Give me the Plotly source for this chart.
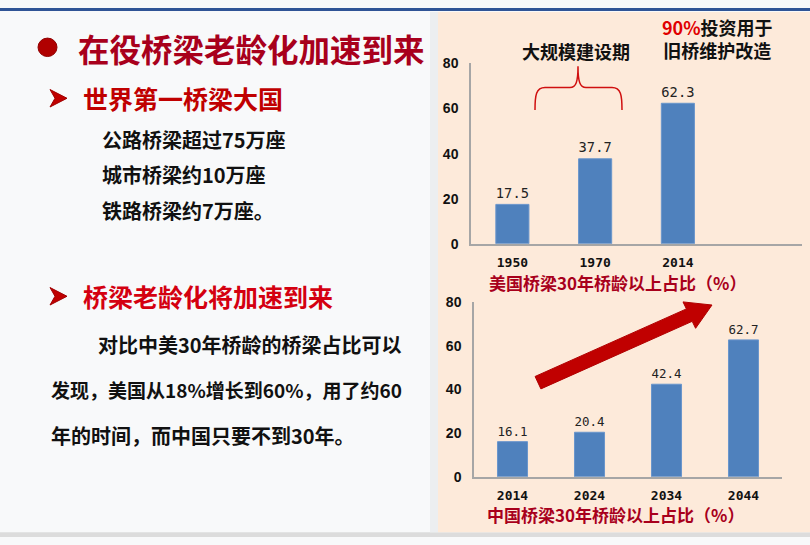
import plotly.graph_objects as go

W, H = 810, 545

# ---- data ----
us_years = ["1950", "1970", "2014", " "]
us_values = [17.5, 37.7, 62.3, None]
cn_years = ["2014", "2024", "2034", "2044"]
cn_values = [16.1, 20.4, 42.4, 62.7]
y_ticks = [0, 20, 40, 60, 80]

BAR = "#4F81BD"
DARKRED = "#A8001C"

def px(x):
    return x / W

def py(y):
    return 1 - y / H

fig = go.Figure()

fig.add_trace(go.Bar(
    x=us_years, y=us_values, xaxis="x", yaxis="y",
    marker=dict(color=BAR, line=dict(color="#6A96CC", width=1)),
    width=0.4,
    text=[("%.1f" % v) if v is not None else "" for v in us_values],
    textposition="outside", cliponaxis=False,
    textfont=dict(family="DejaVu Sans Mono", size=16, color="#222222"),
    showlegend=False, hoverinfo="skip",
))
fig.add_trace(go.Bar(
    x=cn_years, y=cn_values, xaxis="x2", yaxis="y2",
    marker=dict(color=BAR, line=dict(color="#6A96CC", width=1)),
    width=0.39,
    text=["%.1f" % v for v in cn_values],
    textposition="outside", cliponaxis=False,
    textfont=dict(family="DejaVu Sans Mono", size=16, color="#222222"),
    showlegend=False, hoverinfo="skip",
))

axis_common_x = dict(
    type="category", range=[-0.5, 3.5], showgrid=False, zeroline=False,
    showline=True, linecolor="#A6A6A6", linewidth=1.5, ticks="",
    tickfont=dict(family="DejaVu Sans Mono", size=13, color="#111111", weight="bold"),
    ticklabelstandoff=6, fixedrange=True,
)
axis_common_y = dict(
    range=[0, 80], tickvals=y_ticks, showgrid=False, zeroline=False,
    showline=True, linecolor="#A6A6A6", linewidth=1.5, ticks="",
    tickfont=dict(family="Liberation Sans", size=14, color="#111111", weight="bold"),
    ticklabelstandoff=8, fixedrange=True,
)

fig.update_layout(
    width=W, height=H,
    margin=dict(l=0, r=0, t=0, b=0),
    paper_bgcolor="#F8F9FA",
    plot_bgcolor="rgba(0,0,0,0)",
    bargap=0.6,
    xaxis=dict(axis_common_x, domain=[px(471), px(802)], anchor="y"),
    yaxis=dict(axis_common_y, domain=[py(243), py(57)], anchor="x"),
    xaxis2=dict(axis_common_x, domain=[px(474), px(782)], anchor="y2"),
    yaxis2=dict(axis_common_y, domain=[py(483), py(303)], anchor="x2"),
)

shapes = []
# top blue line
shapes.append(dict(type="rect", xref="paper", yref="paper", x0=0, x1=1, y0=py(3), y1=1,
                   fillcolor="#2F5496", line=dict(width=0), layer="below"))
# bottom grey band
shapes.append(dict(type="rect", xref="paper", yref="paper", x0=0, x1=1, y0=0, y1=py(540),
                   fillcolor="#DCDCDC", line=dict(width=0), layer="below"))
# soft shadow at panel edge
shapes.append(dict(type="rect", xref="paper", yref="paper", x0=px(430), x1=px(438), y0=py(540), y1=py(4),
                   fillcolor="#ECEEF0", line=dict(width=0), layer="below"))
# peach panel
shapes.append(dict(type="rect", xref="paper", yref="paper", x0=px(438), x1=1, y0=py(540), y1=py(4),
                   fillcolor="#FDEADA", line=dict(width=0), layer="below"))

def path(points_str):
    out = []
    for tok in points_str.split():
        if "," in tok:
            a, b = tok.split(",")
            out.append("%.5f,%.5f" % (px(float(a)), py(float(b))))
        else:
            out.append(tok)
    return " ".join(out)

# brace
brace = path("M 535,105 C 535,90 536,82 545,82 L 570,82 C 576,82 578,76 578,60 "
             "C 578,76 580,82 586,82 L 612,82 C 621,82 622,90 622,105")
shapes.append(dict(type="path", xref="paper", yref="paper", path=brace,
                   line=dict(color="#D01010", width=1.5)))

# red trend arrow
arrow = path("M 540.9,392.4 L 692.2,322.8 L 695.6,330.0 L 712,306 L 683.0,302.8 "
             "L 686.4,310.0 L 535.1,379.6 Z")
shapes.append(dict(type="path", xref="paper", yref="paper", path=arrow,
                   fillcolor="#C00000", line=dict(color="#B00000", width=1)))

# title bullet
shapes.append(dict(type="circle", xref="paper", yref="paper",
                   x0=px(38), x1=px(57), y0=py(50), y1=py(31),
                   fillcolor="#B00000", line=dict(color="#900000", width=1)))

# arrowhead bullets
for cy in (93, 297):
    p = path("M 50,%d L 67,%d L 50,%d L 55,%d Z" % (cy - 9, cy, cy + 9, cy))
    shapes.append(dict(type="path", xref="paper", yref="paper", path=p,
                       fillcolor="#C00000", line=dict(color="#A00000", width=1)))

fig.update_layout(shapes=shapes)

CJK = "Noto Sans CJK SC"
ann = []

def txt(x, y, s, size, color="#111111", anchor="left", bold=True, align="left"):
    ann.append(dict(xref="paper", yref="paper", x=px(x), y=py(y), text=s,
                    showarrow=False, xanchor=anchor, yanchor="middle", align=align,
                    font=dict(family=CJK, size=size, color=color,
                              weight="bold" if bold else "normal")))

txt(76, 41, "在役桥梁老龄化加速到来", 31.5, DARKRED)
txt(81, 93, "世界第一桥梁大国", 25, "#C00000")
txt(100, 135, "公路桥梁超过75万座", 20)
txt(100, 172, "城市桥梁约10万座", 20)
txt(100, 209, "铁路桥梁约7万座。", 20)
txt(81, 297, "桥梁老龄化将加速到来", 25, "#D40010")
txt(96, 347, "对比中美30年桥龄的桥梁占比可以", 20)
txt(49, 393, "发现，美国从18%增长到60%，用了约60", 19)
txt(49, 440, "年的时间，而中国只要不到30年。", 20)

txt(576, 44, "大规模建设期", 18, "#111111", anchor="center")
txt(717, 31.5, "<span style='color:#E00000'>90%</span>投资用于<br>旧桥维护改造", 18,
    "#111111", anchor="center", align="center")

txt(617, 283, "美国桥梁30年桥龄以上占比（%）", 17, DARKRED, anchor="center")
txt(615, 522, "中国桥梁30年桥龄以上占比（%）", 17, DARKRED, anchor="center")

fig.update_layout(annotations=ann)

fig.write_html(
    "out.html",
    config={"displayModeBar": False},
    post_script="document.body.style.margin='0';document.body.style.overflow='hidden';",
)
